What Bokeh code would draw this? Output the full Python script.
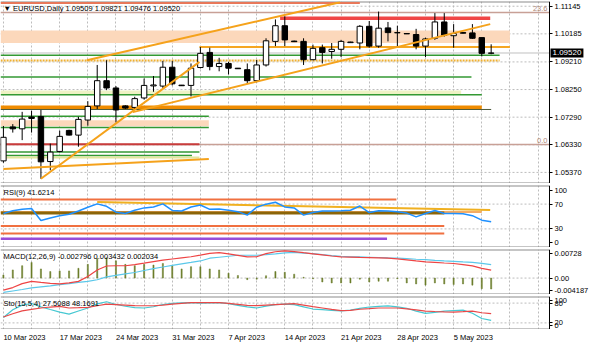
import numpy as np
from bokeh.plotting import figure
from bokeh.layouts import column
from bokeh.models import (Range1d, FixedTicker, Grid, Label, ColumnDataSource,
                          PrintfTickFormatter, LinearAxis)
from bokeh.core.properties import value
from bokeh.embed import file_html
from bokeh.resources import INLINE

# ---------------- data ----------------
SYMBOL = "EURUSD,Daily"
DATE_BARS = [0, 6, 12, 18, 24, 30, 36, 42, 48]
DATE_LABELS = ["10 Mar 2023", "17 Mar 2023", "24 Mar 2023", "31 Mar 2023", "7 Apr 2023",
               "14 Apr 2023", "21 Apr 2023", "28 Apr 2023", "5 May 2023"]

OPEN = [1.05771, 1.06951, 1.06885, 1.07295, 1.07311, 1.05748, 1.06099, 1.06830, 1.06666, 1.07190,
        1.07682, 1.08557, 1.08304, 1.07682, 1.07629, 1.07957, 1.08376, 1.08370, 1.09025, 1.08403,
        1.08393, 1.09015, 1.09540, 1.09048, 1.09156, 1.08992, 1.08940, 1.08557, 1.09104, 1.09923,
        1.10467, 1.09933, 1.09923, 1.09287, 1.09704, 1.09572, 1.09648, 1.09880, 1.09867, 1.10447,
        1.09759, 1.10392, 1.10228, 1.10195, 1.10162, 1.09759, 1.10031, 1.10598, 1.10120, 1.10228,
        1.10218, 1.10054, 1.09509]
HIGH = [1.06984, 1.07049, 1.07475, 1.07508, 1.07541, 1.06371, 1.06820, 1.06853, 1.07301, 1.07845,
        1.09104, 1.09268, 1.08370, 1.07705, 1.07999, 1.08632, 1.08720, 1.09245, 1.09245, 1.08409,
        1.09156, 1.09726, 1.09704, 1.09353, 1.09212, 1.08999, 1.09156, 1.09277, 1.10031, 1.10687,
        1.10795, 1.09949, 1.10031, 1.09812, 1.09812, 1.09867, 1.09976, 1.09910, 1.10490, 1.10631,
        1.10959, 1.10598, 1.10467, 1.10211, 1.10359, 1.10054, 1.10906, 1.10906, 1.10523, 1.10238,
        1.10523, 1.10054, 1.09821]
LOW = [1.05706, 1.06754, 1.06492, 1.06754, 1.05148, 1.05443, 1.06066, 1.06656, 1.06263, 1.06993,
       1.07573, 1.08229, 1.07105, 1.07573, 1.07541, 1.07901, 1.08173, 1.08304, 1.08393, 1.08376,
       1.08009, 1.08983, 1.08917, 1.08884, 1.08776, 1.08966, 1.08448, 1.08501, 1.09048, 1.09759,
       1.09759, 1.09900, 1.09104, 1.09268, 1.09156, 1.09320, 1.09376, 1.09867, 1.09648, 1.09704,
       1.09704, 1.09923, 1.09759, 1.10179, 1.09648, 1.09376, 1.09976, 1.10087, 1.09704, 1.10195,
       1.10008, 1.09399, 1.09476]
CLOSE = [1.06590, 1.06885, 1.07223, 1.07246, 1.05738, 1.06076, 1.06623, 1.06666, 1.07213, 1.07662,
         1.08557, 1.08304, 1.07541, 1.07606, 1.07934, 1.08393, 1.08409, 1.09025, 1.08448, 1.08383,
         1.08992, 1.09507, 1.09048, 1.09156, 1.08992, 1.08973, 1.08557, 1.09104, 1.09943, 1.10467,
         1.09975, 1.09913, 1.09287, 1.09681, 1.09540, 1.09648, 1.09923, 1.09900, 1.10447, 1.09759,
         1.10382, 1.10228, 1.10221, 1.10185, 1.09759, 1.10008, 1.10598, 1.10139, 1.10195, 1.10208,
         1.10031, 1.09507, 1.09520]

PRICE_TICKS = [1.11145, 1.10185, 1.09210, 1.08250, 1.07290, 1.06330, 1.05370]
PRICE_MIN, PRICE_MAX = 1.04985, 1.11309

FIB_PRICE = [1.10926, 1.06338]
FIB_TEXT = ["23.6", "0.0"]

# horizontal levels on the price chart (price, from bar, to bar)
LEVEL_PRICE = [1.11260, 1.10729, 1.09726, 1.09441, 1.09255, 1.08688, 1.08065, 1.07629, 1.07557,
               1.07321, 1.06928, 1.06351, 1.06076, 1.05958, 1.05886]
LEVEL_FROM = [-0.3, 29.5, 20.9, -0.3, -0.3, -0.3, -0.3, -0.3, -0.3,
              -0.3, -0.3, -0.3, -0.3, -0.3, -0.3]
LEVEL_TO = [38.0, 51.9, 54.0, 52.9, 52.9, 49.9, 51.0, 51.0, 52.0,
            21.9, 21.9, 20.9, 20.9, 20.1, 20.9]
# shaded zones (low, high, from bar, to bar)
BAND_LOW = [1.09867, 1.08088, 1.06974]
BAND_HIGH = [1.10303, 1.08213, 1.07180]
BAND_FROM = [-0.3, -0.3, -0.3]
BAND_TO = [54.0, 48.8, 21.9]
# trend lines (bar, price) -> (bar, price)
TREND_X0 = [8.9, 13.8, 4.0, 0.0]
TREND_P0 = [1.09268, 1.07465, 1.05148, 1.05489]
TREND_X1 = [35.9, 51.9, 20.9, 21.9]
TREND_P1 = [1.11286, 1.10523, 1.09212, 1.05837]

RSI = [54.8, 59.3, 61.6, 62.8, 43.6, 47.6, 51.3, 53.7, 58.9, 64.9,
       70.4, 66.5, 57.0, 54.8, 60.1, 63.9, 65.4, 70.4, 59.8, 58.9,
       65.4, 68.5, 61.6, 62.0, 60.1, 57.8, 52.2, 64.9, 69.9, 73.0,
       65.4, 63.9, 52.2, 56.3, 58.9, 58.9, 59.3, 60.1, 66.9, 56.3,
       59.3, 58.9, 57.8, 55.5, 49.4, 54.8, 59.8, 54.8, 54.8, 54.4,
       51.3, 44.1, 41.6214]
RSI_LEVEL = [77.6, 57.3, 55.5, 34.5, 22.4, 14.1]
RSI_LEVEL_FROM = [-0.3, -0.3, -0.3, -0.3, -0.3, -0.3]
RSI_LEVEL_TO = [41.9, 51.0, 47.0, 47.0, 47.0, 40.9]
RSI_TREND_X = [10.0, 51.9]
RSI_TREND_V = [73.5, 60.4]

MACD_HIST = [0.0008, 0.00208, 0.00316, 0.00399, 0.00233, 0.00166, 0.00183, 0.00183, 0.00249, 0.00349,
             0.00499, 0.00515, 0.00440, 0.00349, 0.00316, 0.00349, 0.00332, 0.00374, 0.00316, 0.00233,
             0.00291, 0.00291, 0.00233, 0.00208, 0.00125, 0.00066, -0.0004, -0.0003, 0.0006, 0.00166,
             0.0015, 0.0010, 0.0002, -0.0002, -0.0010, -0.00125, -0.00125, -0.00125, -0.0003, -0.0010,
             -0.0008, -0.0008, -0.0002, -0.00125, -0.0015, -0.0018, -0.00125, -0.0015, -0.00166, -0.0015,
             -0.0018, -0.0027, -0.002796]
MACD_MAIN = [-0.00366, -0.00329, -0.00292, -0.00249, -0.00224, -0.00199, -0.00167, -0.00142, -0.00112, -0.00085,
             -0.00042, 0.00032, 0.00070, 0.00107, 0.00142, 0.00192, 0.00242, 0.00282, 0.00324, 0.00364,
             0.00399, 0.00436, 0.00506, 0.00531, 0.00556, 0.00581, 0.00581, 0.00581, 0.00598, 0.00618,
             0.00641, 0.00656, 0.00636, 0.00623, 0.00596, 0.00573, 0.00556, 0.00541, 0.00538, 0.00531,
             0.00524, 0.00516, 0.00511, 0.00496, 0.00479, 0.00469, 0.00449, 0.00436, 0.00426, 0.00411,
             0.00399, 0.00374, 0.003432]
MACD_SIGNAL = [-0.00309, -0.00242, -0.00142, -0.00085, -0.00112, -0.00135, -0.00150, -0.00122, -0.00085, 0.00040,
               0.00207, 0.00307, 0.00314, 0.00314, 0.00344, 0.00381, 0.00419, 0.00456, 0.00486, 0.00514,
               0.00543, 0.00586, 0.00631, 0.00646, 0.00618, 0.00578, 0.00538, 0.00543, 0.00623, 0.00671,
               0.00693, 0.00676, 0.00646, 0.00618, 0.00591, 0.00563, 0.00538, 0.00533, 0.00526, 0.00521,
               0.00514, 0.00506, 0.00491, 0.00464, 0.00436, 0.00411, 0.00399, 0.00384, 0.00371, 0.00344,
               0.00309, 0.00249, 0.002034]
MACD_MIN, MACD_MAX = -0.004187, 0.00728

STO_MAIN = [36.2, 60.0, 73.9, 78.8, 68.7, 60.6, 52.8, 46.4, 55.9, 65.2,
            77.7, 84.1, 75.7, 70.4, 66.1, 65.2, 69.0, 75.7, 79.1, 80.9,
            81.2, 79.7, 80.6, 81.4, 78.3, 73.3, 68.7, 65.2, 70.7, 75.1,
            77.1, 75.4, 68.7, 62.0, 60.0, 58.0, 56.2, 58.6, 64.3, 68.1,
            70.1, 71.3, 68.7, 64.3, 55.7, 49.0, 51.9, 55.7, 57.1, 58.6,
            49.3, 33.3, 27.5088]
STO_SIGNAL = [37.7, 47.8, 56.5, 60.9, 65.2, 68.1, 70.1, 65.2, 66.1, 67.2,
              71.9, 76.8, 75.4, 73.9, 72.2, 71.9, 71.9, 73.9, 76.8, 79.1,
              81.2, 81.7, 81.7, 81.7, 79.1, 76.2, 73.3, 72.2, 73.9, 75.4,
              76.8, 78.3, 73.9, 69.3, 65.2, 60.9, 57.1, 57.7, 61.4, 63.2,
              65.2, 65.2, 65.2, 62.3, 59.4, 55.9, 54.5, 53.6, 52.8, 54.2,
              55.7, 50.7, 48.1691]

# ---------------- styles / layout ----------------
FONT = "Liberation Sans"
FS = "7.5px"
FULL_W = 589            # whole width: chart area + price scale
CHART_W = 549           # width of the chart area left of the price scale
X_START, AXIS_X = -0.31, 58.22
X_END = X_START + (AXIS_X - X_START) * FULL_W / CHART_W
GRID_C = "#bcbcbc"
SEP_C = "#8c8c8c"
LEVEL_COLOR = ["#e8785a", "#f04646", "#f5a623", "#339933", "#f0b030", "#339933", "#339933", "#f08c00",
               "#4d5a3a", "#339933", "#339933", "#c83c3c", "#339933", "#339933", "#e2e69c"]
LEVEL_WIDTH = [2, 3.5, 2, 1.5, 2, 1.5, 1.5, 4, 1, 1.5, 1.5, 2, 1.5, 1.5, 2]
LEVEL_DASH = ["solid", "solid", "solid", "solid", "2 1", "solid", "solid", "solid",
              "solid", "solid", "solid", "solid", "solid", "solid", "solid"]
BAND_COLOR = ["#fcd8bb", "#eef2c4", "#fcd8bb"]
TREND_COLOR = "#f5a21b"
RSI_LEVEL_COLOR = ["#f07040", "#f09030", "#8b6508", "#f07040", "#f07040", "#9a4dd8"]
RSI_LEVEL_WIDTH = [2, 1.5, 3, 2, 2, 2.5]

n = len(CLOSE)
idx = np.arange(n)
VGRID = list(range(0, 58, 3))
xr = Range1d(X_START, X_END)


def base_fig(frame_h, y0, y1, top, ticks, hgrid, overrides=None, fmt=None):
    p = figure(frame_width=FULL_W, frame_height=frame_h, x_range=xr, y_range=Range1d(y0, y1),
               output_backend="svg", toolbar_location=None, x_axis_location=None,
               y_axis_location=None, min_border_left=0, min_border_right=0,
               min_border_top=top, min_border_bottom=0, outline_line_color=None,
               background_fill_color="white", border_fill_color="white")
    p.grid.visible = False
    p.add_layout(Grid(dimension=0, ticker=FixedTicker(ticks=VGRID), grid_line_color=GRID_C,
                      grid_line_dash="2 2"))
    # horizontal grid lines, only across the chart area
    p.segment(x0=[X_START] * len(hgrid), x1=[AXIS_X] * len(hgrid), y0=hgrid, y1=hgrid,
              line_color=GRID_C, line_dash="2 2", line_width=1)
    # panel separators (top and bottom edge of the chart area)
    p.segment(x0=[X_START, X_START], x1=[AXIS_X, AXIS_X], y0=[y0, y1], y1=[y0, y1],
              line_color=SEP_C, line_width=2)
    ax = LinearAxis(fixed_location=AXIS_X, ticker=FixedTicker(ticks=ticks),
                    minor_tick_line_color=None, major_tick_in=0, major_tick_out=3,
                    major_label_standoff=2, axis_line_color="black", major_tick_line_color="black",
                    major_label_text_font=FONT, major_label_text_font_size=FS,
                    major_label_text_color="black")
    if overrides:
        ax.major_label_overrides = overrides
    if fmt:
        ax.formatter = PrintfTickFormatter(format=fmt)
    p.add_layout(ax, "right")
    return p


def corner_label(p, text, y_top):
    p.add_layout(Label(x=3, x_units="screen", y=y_top, y_units="data", y_offset=-2, text=text,
                       text_baseline="top", text_font=FONT, text_font_size=FS, text_color="black"))


# ---------------- main price chart ----------------
pm = base_fig(182, PRICE_MIN, PRICE_MAX, 1, PRICE_TICKS, PRICE_TICKS, fmt="%.5f")

pm.quad(left=BAND_FROM, right=BAND_TO, bottom=BAND_LOW, top=BAND_HIGH, fill_color=BAND_COLOR,
        line_color=None)
pm.segment(x0=[X_START] * len(FIB_PRICE), x1=[AXIS_X] * len(FIB_PRICE), y0=FIB_PRICE, y1=FIB_PRICE,
           line_color="#c8a096", line_width=1.5)
for lp, lf, lt, c, w, d in zip(LEVEL_PRICE, LEVEL_FROM, LEVEL_TO, LEVEL_COLOR, LEVEL_WIDTH, LEVEL_DASH):
    pm.segment(x0=[lf], x1=[lt], y0=[lp], y1=[lp], line_color=c, line_width=w, line_dash=d)
# bid line
pm.segment(x0=[X_START], x1=[AXIS_X], y0=[CLOSE[-1]], y1=[CLOSE[-1]], line_color="#c0c0c0", line_width=1)

o = np.array(OPEN); h = np.array(HIGH); l = np.array(LOW); c = np.array(CLOSE)
csrc = ColumnDataSource(dict(x=idx, h=h, l=l, top=np.maximum(o, c), bottom=np.minimum(o, c),
                             fill=np.where(c >= o, "white", "black").tolist()))
pm.segment(x0="x", x1="x", y0="h", y1="l", source=csrc, line_color="black", line_width=1)
pm.vbar(x="x", top="top", bottom="bottom", width=0.58, fill_color="fill", line_color="black",
        line_width=1, source=csrc)
pm.segment(x0=TREND_X0, x1=TREND_X1, y0=TREND_P0, y1=TREND_P1, line_color=TREND_COLOR, line_width=2)

for fp, ft in zip(FIB_PRICE, FIB_TEXT):
    pm.add_layout(Label(x=AXIS_X, y=fp, x_offset=-2, y_offset=2, text=ft, text_align="right",
                        text_baseline="bottom", text_font=FONT, text_font_size=FS,
                        text_color="#b08878"))
# current price box on the price scale
pm.add_layout(Label(x=AXIS_X, y=CLOSE[-1], x_offset=1, text=f"{CLOSE[-1]:.5f}",
                    text_baseline="middle", text_font=FONT, text_font_size="8px",
                    text_color="white", background_fill_color="black", background_fill_alpha=1.0,
                    padding=2, level="overlay"))
corner_label(pm, f"\u25bc {SYMBOL}  {OPEN[-1]:.5f} {HIGH[-1]:.5f} {LOW[-1]:.5f} {CLOSE[-1]:.5f}",
             PRICE_MAX)

# ---------------- RSI ----------------
pr = base_fig(62, 0, 100, 2, [92, 70, 30, 8], [70, 30],
              overrides={92: "100", 70: "70", 30: "30", 8: "0"})
for lv, lf, lt, col, w in zip(RSI_LEVEL, RSI_LEVEL_FROM, RSI_LEVEL_TO, RSI_LEVEL_COLOR, RSI_LEVEL_WIDTH):
    pr.segment(x0=[lf], x1=[lt], y0=[lv], y1=[lv], line_color=col, line_width=w)
pr.line(RSI_TREND_X, RSI_TREND_V, line_color="#f0b020", line_width=2)
pr.line(idx, RSI, line_color="#1e90ff", line_width=1.5)
corner_label(pr, f"RSI(9) {RSI[-1]:.4f}", 100)

# ---------------- MACD ----------------
pc = base_fig(45, MACD_MIN, MACD_MAX, 2, [0.0063, 0.0, -0.0032], [0.0],
              overrides={0.0063: f"{MACD_MAX:.5f}", 0.0: "0.00", -0.0032: f"{MACD_MIN:.6f}"})
pc.vbar(x=idx, top=MACD_HIST, bottom=0, width=0.12, fill_color="#6b7d2a", line_color="#6b7d2a",
        line_width=0.5)
pc.line(idx, MACD_MAIN, line_color="#5bc8ea", line_width=1.2)
pc.line(idx, MACD_SIGNAL, line_color="#ee4444", line_width=1.2)
corner_label(pc, f"MACD(12,26,9) {MACD_HIST[-1]:.6f} {MACD_MAIN[-1]:.6f} {MACD_SIGNAL[-1]:.6f}", MACD_MAX)

# ---------------- Stochastic ----------------
ps = base_fig(33, 0, 100, 2, [89, 80, 20, 12], [80, 20],
              overrides={89: "100", 80: "80", 20: "20", 12: "0"})
ps.line(idx, STO_MAIN, line_color="#46c8d2", line_width=1.2)
ps.line(idx, STO_SIGNAL, line_color="#e84848", line_width=1.2)
corner_label(ps, f"Sto(15,5,4) {STO_MAIN[-1]:.4f} {STO_SIGNAL[-1]:.4f}", 100)

# ---------------- date labels ----------------
pd_ = figure(frame_width=FULL_W, frame_height=15, x_range=xr, y_range=Range1d(0, 1),
             output_backend="svg", toolbar_location=None, x_axis_location=None, y_axis_location=None,
             min_border_left=0, min_border_right=0, min_border_top=0, min_border_bottom=0,
             outline_line_color=None, border_fill_color="white", background_fill_color="white")
pd_.grid.visible = False
pd_.text(x=DATE_BARS, y=[0.5] * len(DATE_BARS), text=DATE_LABELS, text_align="left",
         text_baseline="middle", text_font=value(FONT), text_font_size=FS, text_color="black")

layout = column(pm, pr, pc, ps, pd_, spacing=0)
open("out.html", "w").write(file_html(layout, INLINE))
